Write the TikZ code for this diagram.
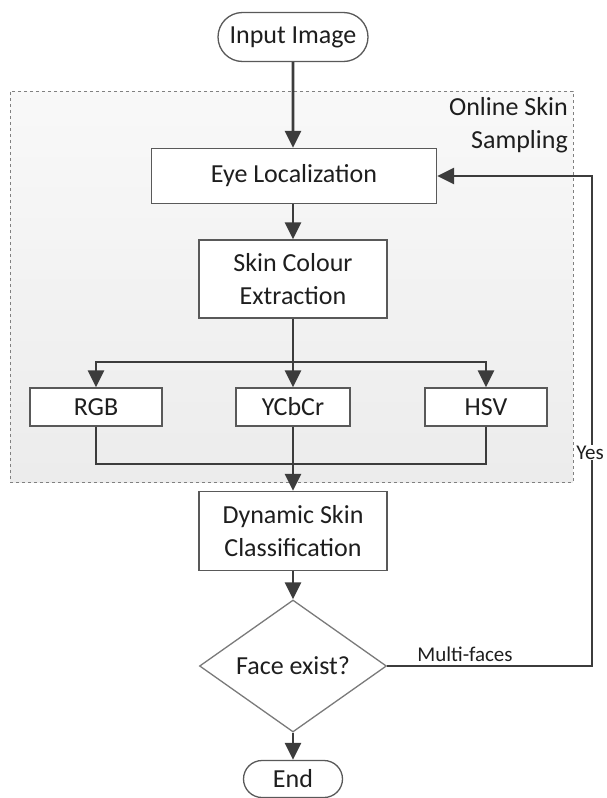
\documentclass[tikz,border=0pt]{standalone}
\usepackage{fontspec}
\setmainfont{Carlito}
\usepackage{tikz}
\usetikzlibrary{arrows.meta,shapes.geometric,shapes.misc}
\definecolor{edge}{HTML}{595959}
\definecolor{arw}{HTML}{3C3C3C}
\definecolor{dash}{HTML}{808080}
\definecolor{txt}{HTML}{1E1E1E}

\begin{document}
\begin{tikzpicture}[x=1pt, y=-1pt,
    font=\fontsize{26}{33}\selectfont, text=txt,
    box/.style={draw=edge, line width=1.3pt, fill=white, inner sep=0pt, align=center},
    term/.style={box, rounded rectangle},
    cond/.style={box, diamond, draw=edge!80},
    flow/.style={draw=arw, line width=2.8pt, -{Triangle[width=16pt,length=17pt]}},
    line/.style={draw=arw, line width=2.8pt},
    group/.style={draw=dash, dashed, line width=0.9pt, top color=gray!5, bottom color=gray!15},
    small/.style={font=\fontsize{21}{25}\selectfont}]
    \useasboundingbox (0, 0) rectangle (606, 798);
    \node [group, minimum width=563pt, minimum height=391pt] (OSS) at (291.5, 286.5) {};
    \node [anchor=north east, align=right, inner sep=0pt] (OSSL) at (568, 97) {Online Skin\\Sampling};
    \node [term, minimum width=150pt, minimum height=49pt] (IN) at (293, 37) {Input Image};
    \node [box, minimum width=285pt, minimum height=55pt] (EYE) at (294, 176) {Eye Localization};
    \node [box, minimum width=188pt, minimum height=78pt] (SKIN) at (293, 279) {Skin Colour\\Extraction};
    \node [box, minimum width=132pt, minimum height=38pt] (RGB) at (96, 407) {RGB};
    \node [box, minimum width=114pt, minimum height=38pt] (YCC) at (293, 407) {YCbCr};
    \node [box, minimum width=122pt, minimum height=38pt] (HSV) at (486, 407) {HSV};
    \node [box, minimum width=188pt, minimum height=79pt] (DSC) at (293, 531) {Dynamic Skin\\Classification};
    \node [cond, minimum width=187pt, minimum height=108pt] (FACE) at (293, 666) {Face exist?};
    \node [term, minimum width=99pt, minimum height=37pt] (END) at (293, 779) {End};
    \coordinate (BR) at (293, 362);
    \coordinate (MG) at (293, 464);
    \coordinate (FB) at (592, 666);
    \draw [flow] (IN) -- (IN |- EYE.north);
    \draw [flow] (EYE.south -| SKIN) -- (SKIN);
    \draw [line] (SKIN) -- (BR);
    \draw [flow] (BR) -| (RGB);
    \draw [flow] (BR) -- (YCC);
    \draw [flow] (BR) -| (HSV);
    \draw [line] (RGB) |- (MG);
    \draw [line] (HSV) |- (MG);
    \draw [line] (YCC) -- (MG);
    \draw [flow] (MG) -- (DSC);
    \draw [flow] (DSC) -- (FACE);
    \draw [flow] (FACE) -- (END);
    \draw [flow] (FACE) -- node [small, above, pos=.38] {Multi-faces} (FB)
        |- node [small, fill=white, inner sep=0.5pt, xshift=-2pt, pos=.218] {Yes} (EYE);
\end{tikzpicture}
\end{document}
